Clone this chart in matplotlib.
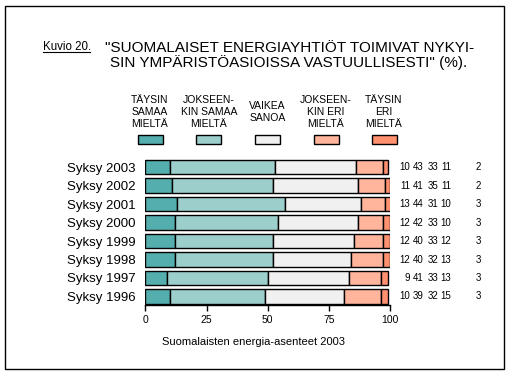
import matplotlib
matplotlib.use('Agg')
import matplotlib.pyplot as plt
from matplotlib.patches import Rectangle
from matplotlib.lines import Line2D
from matplotlib.transforms import blended_transform_factory
import numpy as np

plt.rcParams['font.family'] = ['Liberation Sans', 'DejaVu Sans']

# data, top row first
years = ['Syksy 2003', 'Syksy 2002', 'Syksy 2001', 'Syksy 2000',
         'Syksy 1999', 'Syksy 1998', 'Syksy 1997', 'Syksy 1996']
taysin_samaa = [10, 11, 13, 12, 12, 12, 9, 10]
jokseenkin_samaa = [43, 41, 44, 42, 40, 40, 41, 39]
vaikea_sanoa = [33, 35, 31, 33, 33, 32, 33, 32]
jokseenkin_eri = [11, 11, 10, 10, 12, 13, 13, 15]
taysin_eri = [2, 2, 3, 3, 3, 3, 3, 3]

categories = ['TÄYSIN\nSAMAA\nMIELTÄ', 'JOKSEEN-\nKIN SAMAA\nMIELTÄ', 'VAIKEA\nSANOA',
              'JOKSEEN-\nKIN ERI\nMIELTÄ', 'TÄYSIN\nERI\nMIELTÄ']
colors = ['#55AEAE', '#9CCECB', '#F0F0F0', '#FFB49C', '#FF9070']
xticks = [0, 25, 50, 75, 100]

series = [taysin_samaa, jokseenkin_samaa, vaikea_sanoa, jokseenkin_eri, taysin_eri]

W, H = 509, 375
fig = plt.figure(figsize=(W / 100, H / 100), dpi=100)

# axes placement in pixels
ax = fig.add_axes([145.3 / W, (H - 305) / H, 245 / W, (305 - 158.7) / H])

ypos = np.arange(len(years))[::-1]
left = np.zeros(len(years))
for vals, c in zip(series, colors):
    ax.barh(ypos, vals, left=left, height=0.76, color=c,
            edgecolor='black', linewidth=1.0)
    left += np.array(vals)

ax.set_xlim(0, 100)
ax.set_ylim(-0.46, 7.45)
for s in ['left', 'top', 'right']:
    ax.spines[s].set_visible(False)
ax.spines['bottom'].set_linewidth(1.0)
ax.set_xticks(xticks)
ax.set_xticklabels([str(t) for t in xticks], fontsize=7.5)
ax.tick_params(axis='x', length=4, width=1.0, pad=3)
ax.set_yticks(ypos)
ax.set_yticklabels(years, fontsize=9.5)
ax.tick_params(axis='y', length=0, pad=7)

# value columns to the right of bars
col_px = [410, 424, 438, 451, 481]
tr = blended_transform_factory(fig.transFigure, ax.transData)
for vals, cx in zip(series, col_px):
    for y, v in zip(ypos, vals):
        ax.text(cx / W, y, str(v), transform=tr, fontsize=7,
                ha='right', va='center')

# legend
leg_cx = [150, 208.7, 267.5, 326, 384]
for lab, c, cx in zip(categories, colors, leg_cx):
    fig.add_artist(Rectangle(((cx - 12.5) / W, (H - 144) / H), 25 / W, 8.5 / H,
                             transform=fig.transFigure, facecolor=c,
                             edgecolor='black', linewidth=1.0))
    fig.text(cx / W, (H - 112) / H, lab, ha='center', va='center',
             fontsize=7.5, linespacing=1.3, multialignment='center')

# title
fig.text(42.7 / W, (H - 47) / H, 'Kuvio 20.', fontsize=8.3, va='center', ha='left')
fig.add_artist(Line2D([42.7 / W, 90 / W], [(H - 51.5) / H] * 2,
                      transform=fig.transFigure, color='black', linewidth=0.8))
fig.text(105 / W, (H - 48) / H, '"SUOMALAISET ENERGIAYHTIÖT TOIMIVAT NYKYI-',
         fontsize=11, va='center', ha='left')
fig.text(110 / W, (H - 63) / H, 'SIN YMPÄRISTÖASIOISSA VASTUULLISESTI" (%).',
         fontsize=11, va='center', ha='left')

# caption
fig.text(254 / W, (H - 342) / H, 'Suomalaisten energia-asenteet 2003',
         fontsize=8, ha='center', va='center')

# frame
fig.add_artist(Rectangle((5 / W, 6 / H), 499 / W, 363 / H, transform=fig.transFigure,
                         fill=False, edgecolor='black', linewidth=1.0))

fig.savefig('out.png', dpi=100)
